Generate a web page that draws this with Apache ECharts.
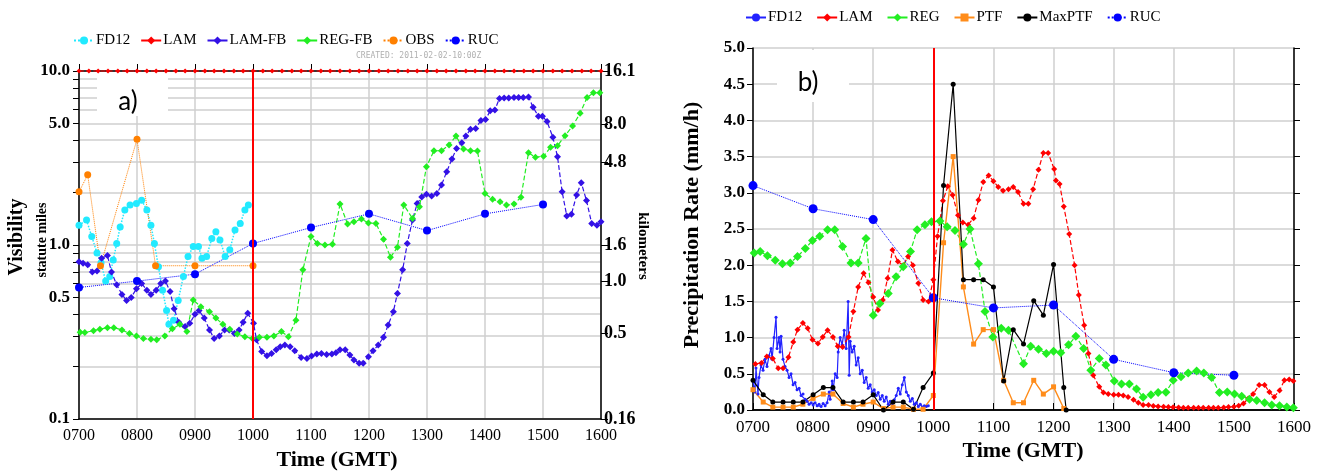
<!DOCTYPE html>
<html>
<head>
<meta charset="utf-8">
<script src="https://cdn.jsdelivr.net/npm/echarts@6/dist/echarts.min.js"></script>
<style>
  * { margin: 0; padding: 0; }
  #main { width: 1323px; height: 475px; background: #fff; }
</style>
</head>
<body>
<div id="main"></div>
<script>
// ---- panel a) visibility (statute miles), time in decimal hours GMT ----
var visFd12 = [[7.00,1.30],[7.13,1.39],[7.22,1.12],[7.31,0.90],[7.38,0.79],[7.46,0.62],[7.53,0.66],[7.59,0.82],
  [7.65,1.02],[7.71,1.27],[7.79,1.59],[7.88,1.70],[7.99,1.73],[8.08,1.81],[8.17,1.59],[8.24,1.30],[8.30,1.02],
  [8.37,0.75],[8.44,0.55],[8.51,0.42],[8.55,0.35],[8.63,0.37],[8.71,0.48],[8.80,0.66],[8.88,0.86],[8.97,0.98],
  [9.06,0.98],[9.12,0.84],[9.20,0.86],[9.29,1.09],[9.36,1.19],[9.43,1.07],[9.52,0.86],[9.60,0.94],[9.69,1.22],
  [9.78,1.33],[9.86,1.59],[9.92,1.70]];
var visLamTimes = [7,7.17,7.33,7.5,7.67,7.83,8,8.17,8.33,8.5,8.67,8.83,9,9.17,9.33,9.5,9.67,9.83,10,10.17,10.33,
  10.5,10.67,10.83,11,11.17,11.33,11.5,11.67,11.83,12,12.17,12.33,12.5,12.67,12.83,13,13.17,13.33,13.5,13.67,13.83,
  14,14.17,14.33,14.5,14.67,14.83,15,15.17,15.33,15.5,15.67,15.83,16];
var visLamVals = [10,10,10,10,10,10,10,10,10,10,10,10,10,10,10,10,10,10,10,10,10,10,10,10,10,10,10,10,10,10,
  10,10,10,10,10,10,10,10,10,10,10,10,10,10,10,10,10,10,10,10,10,10,10,10,10];
var visLamFb = [[7.00,0.80],[7.07,0.785],[7.15,0.77],[7.23,0.70],[7.31,0.71],[7.39,0.84],[7.49,0.87],[7.56,0.70],
  [7.65,0.59],[7.74,0.52],[7.82,0.48],[7.90,0.50],[7.99,0.56],[8.08,0.60],[8.17,0.55],[8.24,0.52],[8.33,0.55],
  [8.41,0.60],[8.49,0.62],[8.57,0.54],[8.64,0.43],[8.72,0.36],[8.83,0.34],[8.91,0.355],[9.00,0.40],[9.07,0.42],
  [9.16,0.38],[9.25,0.325],[9.33,0.29],[9.42,0.30],[9.51,0.325],[9.59,0.325],[9.68,0.31],[9.76,0.325],[9.83,0.36],
  [9.91,0.405],[10.01,0.355],[10.06,0.285],[10.15,0.244],[10.24,0.231],[10.32,0.238],[10.40,0.25],[10.47,0.26],
  [10.55,0.266],[10.64,0.26],[10.72,0.247],[10.83,0.226],[10.93,0.223],[11.01,0.23],[11.10,0.236],[11.18,0.238],
  [11.27,0.235],[11.36,0.236],[11.43,0.24],[11.50,0.25],[11.59,0.25],[11.67,0.233],[11.74,0.218],[11.83,0.209],
  [11.90,0.209],[11.99,0.228],[12.07,0.247],[12.16,0.266],[12.25,0.295],[12.33,0.347],[12.42,0.414],[12.49,0.527],
  [12.58,0.72],[12.66,1.02],[12.75,1.39],[12.83,1.73],[12.91,1.89],[12.99,1.96],[13.08,1.91],[13.17,1.98],
  [13.25,2.21],[13.34,2.64],[13.43,3.12],[13.51,3.59],[13.60,3.87],[13.67,4.23],[13.75,4.62],[13.84,4.68],
  [13.93,5.2],[14.01,5.27],[14.09,5.9],[14.17,5.97],[14.25,6.96],[14.33,7.0],[14.41,7.0],[14.50,7.05],[14.58,7.05],
  [14.66,7.05],[14.75,7.1],[14.83,6.18],[14.92,5.5],[14.99,5.5],[15.07,5.12],[15.17,4.16],[15.25,3.22],[15.33,2.02],
  [15.41,1.47],[15.49,1.50],[15.58,1.94],[15.66,2.28],[15.75,1.80],[15.84,1.33],[15.93,1.30],[16.00,1.36]];
var visRegFb = [[7.02,0.315],[7.10,0.314],[7.25,0.322],[7.36,0.328],[7.49,0.335],[7.60,0.335],[7.74,0.325],
  [7.87,0.31],[7.99,0.30],[8.11,0.29],[8.24,0.287],[8.34,0.285],[8.48,0.30],[8.61,0.33],[8.74,0.35],[8.86,0.318],
  [8.97,0.483],[9.10,0.442],[9.25,0.414],[9.36,0.38],[9.48,0.35],[9.60,0.328],[9.73,0.308],[9.86,0.297],[9.99,0.29],
  [10.11,0.295],[10.24,0.295],[10.36,0.30],[10.49,0.318],[10.61,0.297],[10.74,0.37],[10.86,0.72],[11.00,1.12],
  [11.11,1.02],[11.24,1.0],[11.37,1.01],[11.50,1.72],[11.63,1.32],[11.74,1.36],[11.87,1.41],[11.99,1.34],
  [12.12,1.33],[12.25,1.08],[12.37,0.85],[12.49,0.97],[12.60,1.70],[12.75,1.42],[12.87,1.66],[12.99,2.82],
  [13.12,3.48],[13.25,3.48],[13.38,3.76],[13.50,4.23],[13.63,3.56],[13.75,3.48],[13.87,3.47],[14.00,1.98],
  [14.13,1.83],[14.26,1.77],[14.37,1.70],[14.50,1.72],[14.62,1.88],[14.75,3.39],[14.87,3.19],[15.01,3.24],
  [15.13,3.64],[15.25,3.72],[15.38,4.25],[15.51,4.83],[15.64,5.71],[15.76,7.05],[15.87,7.5],[15.98,7.5]];
var visObs = [[7.00,2.02],[7.15,2.53],[7.37,0.76],[8.00,4.05],[8.32,0.76],[9.00,0.76],[10.00,0.76]];
var visRuc = [[7,0.57],[8,0.62],[9,0.68],[10,1.02],[11,1.26],[12,1.51],[13,1.21],[14,1.51],[15,1.71]];

// ---- panel b) precipitation rate (mm/h) ----
var prFd12 = [[7.00,0.40],[7.033,0.25],[7.05,0.58],[7.083,0.22],[7.10,0.45],[7.133,0.62],[7.167,0.55],[7.20,0.70],
  [7.233,0.60],[7.267,0.75],[7.30,0.85],[7.317,0.70],[7.35,1.00],[7.383,1.28],[7.40,0.85],[7.433,1.00],[7.45,0.80],
  [7.467,1.02],[7.50,0.70],[7.533,0.60],[7.567,0.55],[7.60,0.45],[7.633,0.50],[7.667,0.35],[7.70,0.38],[7.733,0.28],
  [7.767,0.30],[7.80,0.20],[7.833,0.22],[7.867,0.15],[7.90,0.12],[7.933,0.08],[7.967,0.10],[8.00,0.07],[8.033,0.10],
  [8.067,0.06],[8.10,0.08],[8.133,0.05],[8.167,0.09],[8.20,0.06],[8.233,0.10],[8.267,0.25],[8.283,0.15],[8.317,0.40],
  [8.333,0.28],[8.367,0.50],[8.40,0.45],[8.417,0.80],[8.45,1.00],[8.483,0.90],[8.517,1.10],[8.55,0.85],[8.583,1.50],
  [8.60,0.48],[8.617,0.95],[8.65,0.80],[8.683,0.88],[8.717,0.62],[8.75,0.72],[8.783,0.50],[8.817,0.55],[8.85,0.38],
  [8.883,0.45],[8.917,0.30],[8.95,0.35],[8.983,0.25],[9.017,0.28],[9.05,0.20],[9.083,0.24],[9.117,0.15],[9.15,0.20],
  [9.183,0.12],[9.217,0.18],[9.25,0.08],[9.283,0.12],[9.317,0.06],[9.35,0.14],[9.383,0.20],[9.417,0.30],[9.45,0.22],
  [9.483,0.35],[9.517,0.45],[9.55,0.25],[9.583,0.20],[9.617,0.12],[9.65,0.16],[9.683,0.08],[9.717,0.10],[9.75,0.05],
  [9.783,0.08],[9.817,0.04],[9.85,0.06],[9.883,0.05],[9.917,0.06]];
var prLam = [[7.04,0.635],[7.14,0.65],[7.23,0.74],[7.33,0.71],[7.42,0.575],[7.50,0.575],[7.59,0.73],[7.67,0.94],
  [7.74,1.11],[7.83,1.20],[7.91,1.13],[7.99,0.97],[8.08,0.92],[8.16,1.01],[8.24,1.10],[8.33,1.01],[8.41,0.88],
  [8.49,0.87],[8.59,1.01],[8.67,1.36],[8.75,1.70],[8.84,1.89],[8.92,1.76],[9.00,1.56],[9.08,1.38],[9.16,1.52],
  [9.24,1.82],[9.32,2.21],[9.41,2.05],[9.50,2.0],[9.58,2.12],[9.66,2.0],[9.75,1.75],[9.83,1.52],[9.92,1.50],
  [10.00,1.80],[10.07,2.40],[10.16,2.89],[10.24,3.09],[10.32,2.97],[10.41,2.69],[10.49,2.59],[10.58,2.56],
  [10.67,2.65],[10.75,2.90],[10.83,3.15],[10.92,3.24],[11.00,3.16],[11.08,3.08],[11.16,3.03],[11.25,3.05],
  [11.33,3.08],[11.41,3.01],[11.50,2.85],[11.58,2.85],[11.66,3.05],[11.75,3.32],[11.83,3.55],[11.91,3.55],
  [12.01,3.33],[12.04,3.17],[12.10,3.12],[12.17,2.81],[12.26,2.43],[12.35,2.00],[12.42,1.59],[12.51,1.17],
  [12.58,0.78],[12.66,0.48],[12.76,0.32],[12.83,0.24],[12.91,0.22],[13.00,0.21],[13.08,0.21],[13.16,0.20],
  [13.24,0.18],[13.33,0.14],[13.41,0.10],[13.49,0.07],[13.58,0.07],[13.66,0.055],[13.74,0.05],[13.83,0.045],
  [13.91,0.04],[13.99,0.037],[14.08,0.035],[14.16,0.03],[14.24,0.03],[14.33,0.03],[14.41,0.03],[14.49,0.03],
  [14.58,0.03],[14.66,0.03],[14.74,0.03],[14.83,0.035],[14.91,0.04],[15.00,0.045],[15.08,0.06],[15.16,0.09],
  [15.24,0.16],[15.32,0.22],[15.42,0.345],[15.51,0.345],[15.59,0.25],[15.67,0.18],[15.76,0.27],[15.84,0.41],
  [15.92,0.42],[15.99,0.40]];
var prReg = [[7.02,2.17],[7.12,2.19],[7.24,2.13],[7.37,2.07],[7.49,2.02],[7.62,2.03],[7.74,2.12],[7.87,2.23],
  [7.99,2.34],[8.11,2.40],[8.24,2.49],[8.36,2.49],[8.49,2.26],[8.63,2.03],[8.75,2.03],[8.88,2.37],[9.00,1.31],
  [9.11,1.47],[9.25,1.61],[9.38,1.84],[9.50,1.98],[9.62,2.19],[9.73,2.49],[9.86,2.56],[9.97,2.60],[10.11,2.61],
  [10.23,2.53],[10.36,2.48],[10.50,2.29],[10.61,2.50],[10.75,2.02],[10.86,1.36],[10.99,1.01],[11.13,1.13],
  [11.25,1.10],[11.50,0.64],[11.62,0.88],[11.75,0.84],[11.88,0.78],[12.00,0.81],[12.12,0.79],[12.25,0.90],
  [12.37,1.02],[12.50,0.85],[12.62,0.55],[12.76,0.71],[12.87,0.62],[13.01,0.40],[13.13,0.36],[13.26,0.36],
  [13.38,0.29],[13.49,0.175],[13.62,0.21],[13.74,0.24],[13.87,0.245],[13.99,0.41],[14.12,0.46],[14.24,0.51],
  [14.38,0.54],[14.50,0.51],[14.63,0.45],[14.76,0.24],[14.89,0.25],[15.01,0.22],[15.13,0.19],[15.26,0.15],
  [15.38,0.13],[15.51,0.10],[15.63,0.07],[15.76,0.06],[15.88,0.04],[15.99,0.03]];
var prPtf = [[7.00,0.28],[7.17,0.11],[7.33,0.04],[7.50,0.04],[7.67,0.04],[7.83,0.08],[8.00,0.16],[8.17,0.22],
  [8.33,0.22],[8.50,0.09],[8.67,0.04],[8.83,0.08],[9.00,0.11],[9.17,0.02],[9.33,0.04],[9.50,0.04],[9.67,0.01],
  [9.83,0.01],[10.00,0.20],[10.17,2.31],[10.33,3.50],[10.50,1.70],[10.67,0.91],[10.83,1.11],[11.00,1.11],
  [11.17,0.41],[11.33,0.10],[11.50,0.10],[11.67,0.41],[11.83,0.22],[12.00,0.32],[12.17,0.02]];
var prMaxPtf = [[7.00,0.41],[7.17,0.21],[7.33,0.11],[7.50,0.11],[7.67,0.11],[7.83,0.11],[8.00,0.21],[8.17,0.31],
  [8.33,0.31],[8.50,0.11],[8.67,0.11],[8.83,0.11],[9.00,0.21],[9.17,0.00],[9.33,0.11],[9.50,0.11],[9.67,0.01],
  [9.83,0.31],[10.00,0.51],[10.17,3.10],[10.33,4.50],[10.50,1.80],[10.67,1.80],[10.83,1.80],[11.00,1.70],
  [11.17,0.40],[11.33,1.11],[11.50,0.91],[11.67,1.51],[11.83,1.31],[12.00,2.01],[12.17,0.31],[12.21,0.00]];
var prRuc = [[7,3.10],[8,2.78],[9,2.63],[10,1.55],[11,1.41],[12,1.45],[13,0.70],[14,0.515],[15,0.48]];

var hourTicks = [7, 16, 1];
var visTickVals = [0.1,0.2,0.3,0.4,0.5,0.6,0.7,0.8,0.9,1,2,3,4,5,6,7,8,9,10];
var visLabelVals = [0.1,0.5,1,5,10];
var kmLabelVals = [0.161,0.5,1.0,1.6,4.8,8.0,16.1];

var SERIF = 'Liberation Serif';
var GRIDC = '#cfcfcf';

function hourLabel(v) { return (v < 10 ? '0' : '') + v + '00'; }

function line(name, data, color, type, symbol, size, xi, yi, width) {
  return {
    name: name, type: 'line', data: data, xAxisIndex: xi, yAxisIndex: yi,
    symbol: symbol, symbolSize: size, showSymbol: true,
    itemStyle: { color: color },
    lineStyle: { color: color, type: type, width: width || 1.2 },
    emphasis: { disabled: true }
  };
}

function redLine() {
  return {
    silent: true, symbol: 'none', animation: false,
    label: { show: false },
    lineStyle: { color: '#ff0000', width: 2, type: 'solid' },
    data: [{ xAxis: 10 }]
  };
}

function xBottom(gi, fs) {
  return {
    gridIndex: gi, type: 'value', min: hourTicks[0], max: hourTicks[1], interval: hourTicks[2],
    axisLine: { lineStyle: { color: '#000', width: 1.5 } },
    axisTick: { show: false },
    axisLabel: { formatter: hourLabel, fontFamily: SERIF, fontSize: fs, color: '#000', margin: 9 },
    splitLine: { show: true, lineStyle: { color: GRIDC, width: 1.5 } }
  };
}
function xTop(gi) {
  return {
    gridIndex: gi, type: 'value', position: 'top', min: hourTicks[0], max: hourTicks[1], interval: hourTicks[2],
    axisLine: { lineStyle: { color: '#000', width: 1.5 } },
    axisTick: { show: true, length: 7, lineStyle: { color: '#000' } },
    axisLabel: { show: false }, splitLine: { show: false }
  };
}

var fd12 = line('FD12', visFd12, '#22eaff', 'dotted', 'circle', 7, 0, 0, 1.5);
fd12.markLine = redLine();
var lamVis = line('LAM', visLamTimes.map(function (t, i) { return [t, visLamVals[i]]; }),
  '#ff0000', 'dashed', 'diamond', 5, 0, 0, 1.2);
lamVis.clip = false;

var fd12b = line('FD12 ', prFd12, '#2222ff', 'solid', 'circle', 3, 2, 2, 1.2);
fd12b.markLine = redLine();

var legendText = { fontFamily: SERIF, fontSize: 15, color: '#000', padding: [0, 0, 0, -3] };

var option = {
  animation: false,
  backgroundColor: '#fff',
  grid: [
    { left: 79, top: 71, width: 522, height: 348 },
    { left: 753, top: 48, width: 541, height: 362 }
  ],
  legend: [
    {
      data: ['FD12', 'LAM', 'LAM-FB', 'REG-FB', 'OBS', 'RUC'],
      left: 68, top: 28, itemWidth: 20, itemHeight: 10, itemGap: 10,
      textStyle: legendText, selectedMode: false
    },
    {
      data: ['FD12 ', 'LAM ', 'REG', 'PTF', 'MaxPTF', 'RUC '],
      formatter: function (n) { return n.trim(); },
      left: 740, top: 5, itemWidth: 20, itemHeight: 10, itemGap: 14,
      textStyle: legendText, selectedMode: false
    }
  ],
  xAxis: [xBottom(0, 16), xTop(0), xBottom(1, 17), xTop(1)],
  yAxis: [
    {
      gridIndex: 0, type: 'log', logBase: 10, min: 0.1, max: 10,
      axisLine: { show: true, lineStyle: { color: '#000', width: 1.5 } },
      axisTick: { show: true, length: 6, customValues: visTickVals, lineStyle: { color: '#000' } },
      axisLabel: { customValues: visLabelVals, formatter: function (v) { return v.toFixed(1); },
        fontFamily: SERIF, fontSize: 17, fontWeight: 'bold', color: '#000', margin: 9 },
      splitLine: { show: true, lineStyle: { color: GRIDC, width: 1.5 } }
    },
    {
      gridIndex: 0, type: 'log', logBase: 10, min: 0.161, max: 16.1, position: 'right',
      axisLine: { show: true, lineStyle: { color: '#000', width: 1.5 } },
      axisTick: { show: true, length: 7, customValues: kmLabelVals, lineStyle: { color: '#000' } },
      axisLabel: { customValues: kmLabelVals,
        formatter: function (v) { return v < 0.2 ? '0.16' : v.toFixed(1); },
        fontFamily: SERIF, fontSize: 18, fontWeight: 'bold', color: '#000', margin: 3 },
      splitLine: { show: false }
    },
    {
      gridIndex: 1, type: 'value', min: 0, max: 5, interval: 0.5,
      axisLine: { show: true, lineStyle: { color: '#000', width: 1.5 } },
      axisTick: { show: true, length: 6, lineStyle: { color: '#000' } },
      axisLabel: { formatter: function (v) { return v.toFixed(1); },
        fontFamily: SERIF, fontSize: 17, fontWeight: 'bold', color: '#000', margin: 8 },
      splitLine: { show: true, lineStyle: { color: GRIDC, width: 1.5 } }
    },
    {
      gridIndex: 1, type: 'value', min: 0, max: 5, interval: 0.5, position: 'right',
      axisLine: { show: true, lineStyle: { color: '#000', width: 1.5 } },
      axisTick: { show: true, length: 6, lineStyle: { color: '#000' } },
      axisLabel: { show: false }, splitLine: { show: false }
    }
  ],
  series: [
    fd12,
    lamVis,
    line('LAM-FB', visLamFb, '#3311e6', 'dashed', 'diamond', 7, 0, 0, 1.2),
    line('REG-FB', visRegFb, '#22ee22', 'dashed', 'diamond', 7, 0, 0, 1.2),
    line('OBS', visObs, '#ff8000', 'dotted', 'circle', 7, 0, 0, 1),
    line('RUC', visRuc, '#0000ff', 'dotted', 'circle', 8, 0, 0, 1),
    fd12b,
    line('LAM ', prLam, '#ff0000', 'dashed', 'diamond', 6, 2, 2, 1.2),
    line('REG', prReg, '#22ee22', 'dashed', 'diamond', 9, 2, 2, 1.2),
    line('PTF', prPtf, '#ff8c1a', 'solid', 'rect', 5, 2, 2, 1.4),
    line('MaxPTF', prMaxPtf, '#000000', 'solid', 'circle', 5, 2, 2, 1.2),
    line('RUC ', prRuc, '#0000ff', 'dotted', 'circle', 9, 2, 2, 1)
  ],
  graphic: [
    { type: 'rect', z: 1, shape: { x: 97, y: 73, width: 71, height: 43 }, style: { fill: '#fff' } },
    { type: 'text', z: 3, x: 128, y: 102, style: { text: 'a)', font: '26px Lato', fill: '#000',
      align: 'center', verticalAlign: 'middle' } },
    { type: 'rect', z: 1, shape: { x: 777, y: 50, width: 72, height: 52 }, style: { fill: '#fff' } },
    { type: 'text', z: 3, x: 808, y: 83, style: { text: 'b)', font: '26px Lato', fill: '#000',
      align: 'center', verticalAlign: 'middle' } },
    { type: 'text', z: 3, x: 356, y: 56, style: { text: 'CREATED: 2011-02-02-10:00Z',
      font: '8px "DejaVu Sans Mono"', fill: '#b0b0b0', verticalAlign: 'middle' } },
    { type: 'text', z: 3, x: 17, y: 237, rotation: Math.PI / 2, style: { text: 'Visibility',
      font: 'bold 20px "Liberation Serif"', fill: '#000', align: 'center', verticalAlign: 'middle' } },
    { type: 'text', z: 3, x: 42, y: 240, rotation: Math.PI / 2, style: { text: 'statute miles',
      font: 'bold 14px "Liberation Serif"', fill: '#000', align: 'center', verticalAlign: 'middle' } },
    { type: 'text', z: 3, x: 643, y: 246, rotation: -Math.PI / 2, style: { text: 'kilometers',
      font: 'bold 15px "Liberation Serif"', fill: '#000', align: 'center', verticalAlign: 'middle' } },
    { type: 'text', z: 3, x: 337, y: 460, style: { text: 'Time (GMT)',
      font: 'bold 22px "Liberation Serif"', fill: '#000', align: 'center', verticalAlign: 'middle' } },
    { type: 'text', z: 3, x: 1023, y: 451, style: { text: 'Time (GMT)',
      font: 'bold 22px "Liberation Serif"', fill: '#000', align: 'center', verticalAlign: 'middle' } },
    { type: 'text', z: 3, x: 692, y: 225, rotation: Math.PI / 2, style: { text: 'Precipitation Rate (mm/h)',
      font: 'bold 22px "Liberation Serif"', fill: '#000', align: 'center', verticalAlign: 'middle' } }
  ]
};

var chart = echarts.init(document.getElementById('main'));
chart.setOption(option);
</script>
</body>
</html>
